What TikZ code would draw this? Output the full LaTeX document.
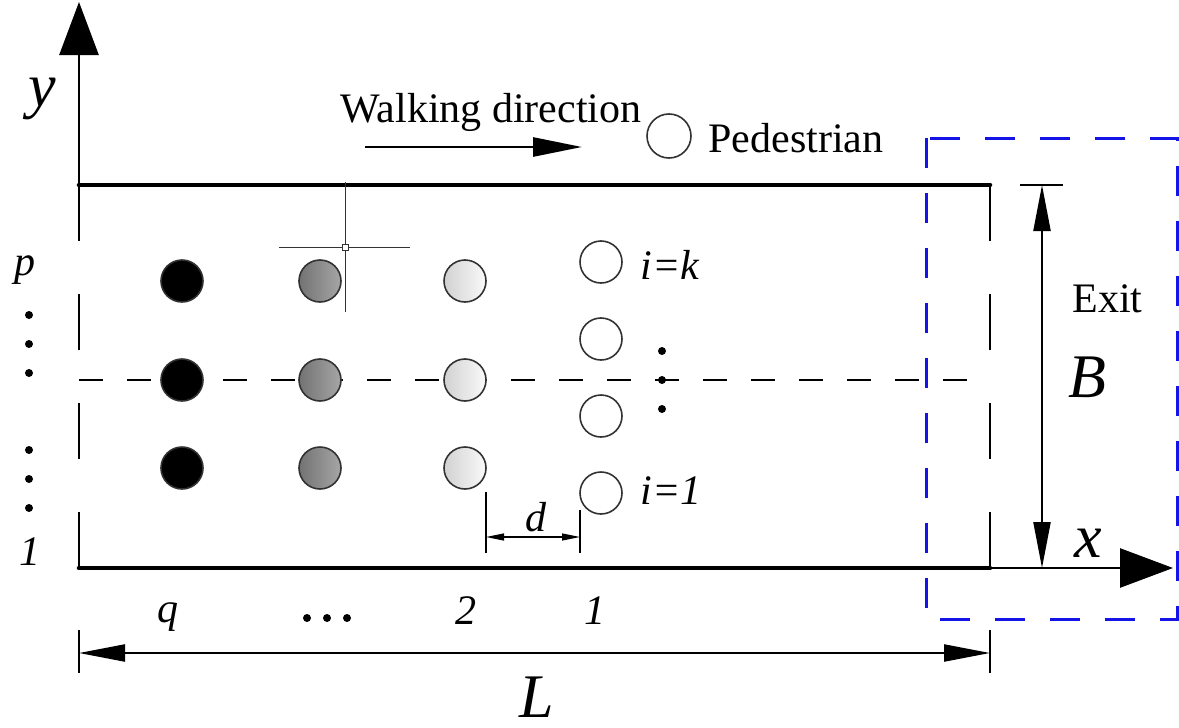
\documentclass[tikz,border=0pt]{standalone}
\usepackage{fontspec}
\setmainfont{Liberation Serif}
\usetikzlibrary{arrows.meta}
\definecolor{exitblue}{RGB}{20,20,230}
\definecolor{pedline}{RGB}{50,50,50}
\begin{document}
\begin{tikzpicture}[x=0.5pt,y=-0.5pt,
  wall/.style={line width=2.3pt,line cap=round},
  axisline/.style={line width=1.35pt},
  walldash/.style={line width=1.35pt,dash pattern=on 28pt off 26.5pt},
  centerdash/.style={line width=0.55pt,dash pattern=on 12pt off 12pt},
  exitbox/.style={draw=exitblue,line width=1.5pt,dash pattern=on 15pt off 12.5pt},
  dimline/.style={line width=1.1pt},
  thindim/.style={line width=0.6pt},
  crossline/.style={line width=0.5pt,draw=black!80},
  bigtip/.style={-{Triangle[length=26.5pt,width=19.5pt]}},
  dimtips/.style={{Triangle[length=23pt,width=8.5pt]}-{Triangle[length=23pt,width=8.5pt]}},
  smalltips/.style={{Triangle[length=9pt,width=3.5pt]}-{Triangle[length=9pt,width=3.5pt]}},
  walktip/.style={-{Triangle[length=24.5pt,width=9.5pt]}},
  ped/.style={circle,draw=pedline,line width=0.8pt,minimum size=21pt,inner sep=0pt},
  pedblack/.style={ped,fill=black},
  pedgray/.style={ped,left color=black!55,right color=black!35},
  pedlight/.style={ped,left color=black!18,right color=black!2},
  pedwhite/.style={ped,fill=white},
  dotmark/.style={circle,fill=black,minimum size=4pt,inner sep=0pt},
  cursq/.style={draw=black!80,fill=white,line width=0.4pt,minimum size=3pt,inner sep=0pt},
  txt/.style={inner sep=0pt,font=\fontsize{21}{25}\selectfont},
  itxt/.style={inner sep=0pt,font=\fontsize{21}{25}\selectfont\itshape},
  bigi/.style={inner sep=0pt,font=\fontsize{31}{36}\selectfont\itshape}]
\useasboundingbox (0,0) rectangle (1179,728);

% corridor corners and axis tips
\coordinate (TL) at (79,185);
\coordinate (TR) at (990,185);
\coordinate (BL) at (79,568);
\coordinate (BR) at (990,568);
\coordinate (yTip) at (79,2);
\coordinate (xTip) at (1173,568);

% exit region
\draw[exitbox] (926,138) rectangle (1177,619);

% walls and axes
\draw[wall] (TL) -- (TR);
\draw[wall] (BL) -- (BR);
\draw[axisline,bigtip] (TL) -- (yTip);
\draw[axisline,bigtip] (BR) -- (xTip);
\draw[walldash] (TL) -- (BL);
\draw[walldash] (TR) -- (BR);

% centre line
\coordinate (CL) at (79,380);
\coordinate (CR) at (986,380);
\draw[centerdash] (CL) -- (CR);

% cursor cross
\coordinate (cv1) at (345,182);
\coordinate (cv2) at (345,312);
\coordinate (ch1) at (279,247);
\coordinate (ch2) at (410,247);
\draw[crossline] (cv1) -- (cv2);
\draw[crossline] (ch1) -- (ch2);
\node[cursq] (cur) at (345,247) {};

% pedestrians
\foreach \n/\yy in {a/281,b/380,c/468} {
  \node[pedblack] (q\n) at (182,\yy) {};
  \node[pedgray]  (g\n) at (320,\yy) {};
  \node[pedlight] (s\n) at (465,\yy) {};
}
\foreach \n/\yy in {a/262,b/339,c/416,d/493} {
  \node[pedwhite] (f\n) at (601,\yy) {};
}

% vertical dots right of column 1
\foreach \n/\yy in {a/351,b/380,c/409} {
  \node[dotmark] (rd\n) at (662,\yy) {};
}
% left dots
\foreach \n/\yy in {a/315,b/344,c/373,d/450,e/479,f/508} {
  \node[dotmark] (ld\n) at (29,\yy) {};
}
% bottom dots
\foreach \n/\xx in {a/307,b/327,c/347} {
  \node[dotmark] (bd\n) at (\xx,618) {};
}

% legend
\node[txt,anchor=base west] (walk) at (340,122) {Walking direction};
\coordinate (wa1) at (365,147);
\coordinate (wa2) at (582,147);
\draw[axisline,walktip] (wa1) -- (wa2);
\node[ped,minimum size=22pt] (legped) at (669,136) {};
\node[txt,anchor=base west] (pedtxt) at (708,152) {Pedestrian};

% B dimension
\coordinate (Bt1) at (1020,185);
\coordinate (Bt2) at (1063,185);
\coordinate (Btop) at (1042,185);
\coordinate (Bbot) at (1042,568);
\draw[dimline] (Bt1) -- (Bt2);
\draw[dimline,dimtips] (Btop) -- (Bbot);
\node[txt,anchor=base west] (exit) at (1072,312) {Exit};
\node[bigi,anchor=base] (B) at (1087,397) {B};

% L dimension
\coordinate (Lt1a) at (79,630);
\coordinate (Lt1b) at (79,673);
\coordinate (Lt2a) at (990,630);
\coordinate (Lt2b) at (990,673);
\coordinate (La) at (79,653);
\coordinate (Lb) at (990,653);
\draw[dimline] (Lt1a) -- (Lt1b);
\draw[dimline] (Lt2a) -- (Lt2b);
\draw[dimline,dimtips] (La) -- (Lb);
\node[bigi,anchor=base] (L) at (537,717) {L};

% d dimension
\coordinate (dt1a) at (486,492);
\coordinate (dt1b) at (486,553);
\coordinate (dt2a) at (580,510);
\coordinate (dt2b) at (580,553);
\coordinate (da) at (486,537);
\coordinate (db) at (580,537);
\draw[thindim] (dt1a) -- (dt1b);
\draw[thindim] (dt2a) -- (dt2b);
\draw[thindim,smalltips] (da) -- (db);
\node[itxt,anchor=base] (d) at (536,531) {d};

% axis labels
\node[bigi,anchor=base] (ylab) at (42,106) {y};
\node[bigi,anchor=base] (xlab) at (1088,557) {x};

% index labels
\node[itxt,anchor=base] (plab) at (25,275) {p};
\node[itxt,anchor=base] (onelab) at (30,565) {1};
\node[itxt,anchor=base] (qlab) at (168,622) {q};
\node[itxt,anchor=base] (twolab) at (466,624) {2};
\node[itxt,anchor=base] (c1lab) at (595,624) {1};
\node[itxt,anchor=base west] (ik) at (640,279) {i=k};
\node[itxt,anchor=base west] (i1) at (640,504) {i=1};
\end{tikzpicture}
\end{document}
